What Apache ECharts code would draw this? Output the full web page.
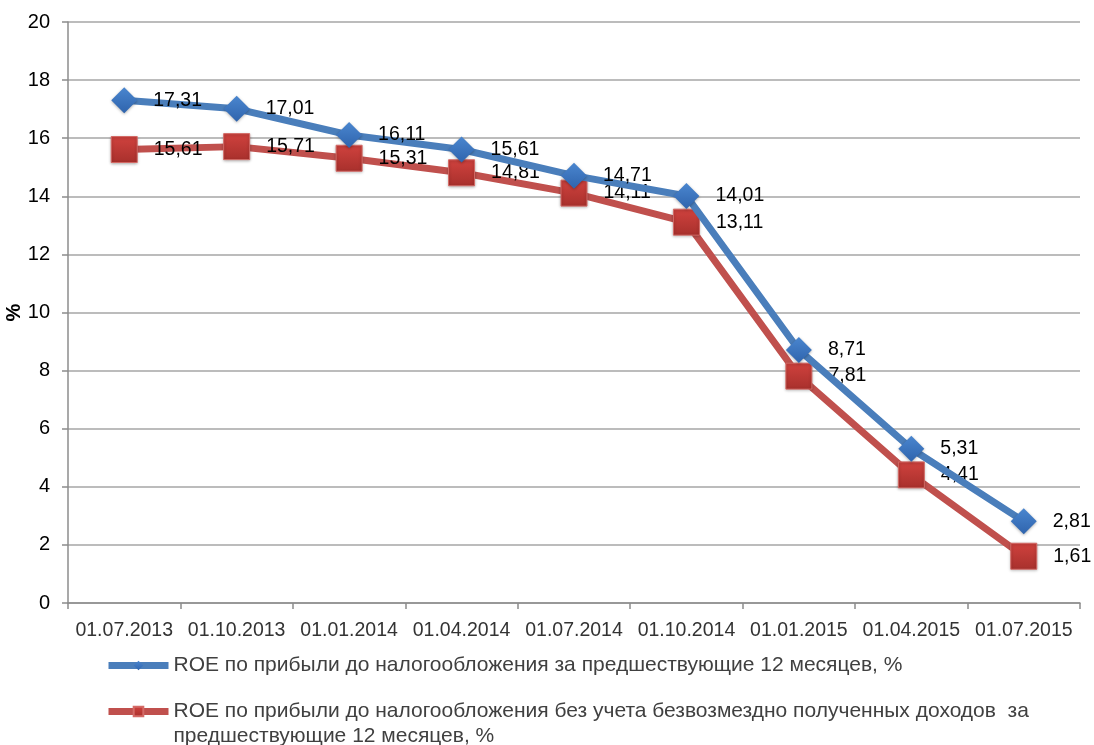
<!DOCTYPE html>
<html>
<head>
<meta charset="utf-8">
<script src="https://cdn.jsdelivr.net/npm/echarts@6/dist/echarts.min.js"></script>
<style>
  html, body { margin: 0; padding: 0; background: #fff; }
  #chart { width: 1094px; height: 745px; }
</style>
</head>
<body>
<div id="chart"></div>
<script>
var dates = ['01.07.2013', '01.10.2013', '01.01.2014', '01.04.2014', '01.07.2014',
  '01.10.2014', '01.01.2015', '01.04.2015', '01.07.2015']
var roeName = 'ROE по прибыли до налогообложения за предшествующие 12 месяцев, %'
var roeNetName = 'ROE по прибыли до налогообложения без учета безвозмездно полученных доходов  за предшествующие 12 месяцев, %'
var roeValues = [17.31, 17.01, 16.11, 15.61, 14.71, 14.01, 8.71, 5.31, 2.81]
var roeNetValues = [15.61, 15.71, 15.31, 14.81, 14.11, 13.11, 7.81, 4.41, 1.61]

var font = 'Liberation Sans, Arial, sans-serif'
var fmt = function (p) {
  return p.value.toFixed(2).replace('.', ',')
}
var legendBase = {
  orient: 'vertical',
  left: 105,
  padding: 0,
  itemWidth: 60,
  itemHeight: 12,
  align: 'left',
  lineStyle: { width: 7 },
  textStyle: { fontSize: 21, color: '#404040', fontFamily: font, lineHeight: 25 }
}

var chart = echarts.init(document.getElementById('chart'))
var option = {
  animation: false,
  grid: { left: 68, right: 14, top: 22, bottom: 142, outerBoundsMode: 'none' },
  legend: [
    Object.assign({}, legendBase, { top: 653, data: [roeName] }),
    Object.assign({}, legendBase, {
      top: 674,
      data: [roeNetName],
      // blank first line keeps the icon level with the first text line
      formatter: function (name) {
        return ' \n' + name.replace('доходов  за ', 'доходов  за\n')
      }
    })
  ],
  xAxis: {
    type: 'category',
    data: dates,
    boundaryGap: true,
    axisLine: { lineStyle: { color: '#8c8c8c', width: 1.5 } },
    axisTick: { show: true, length: 6, lineStyle: { color: '#8c8c8c', width: 1.5 } },
    axisLabel: { interval: 0, color: '#333', fontSize: 19.5, fontFamily: font, margin: 18 }
  },
  yAxis: {
    type: 'value',
    min: 0,
    max: 20,
    interval: 2,
    name: '%',
    nameLocation: 'middle',
    nameGap: 44,
    nameMoveOverlap: false,
    nameTextStyle: { fontSize: 20, fontWeight: 'bold', color: '#000', fontFamily: font },
    axisLine: { show: true, lineStyle: { color: '#8c8c8c', width: 1.5 } },
    axisTick: { show: true, length: 6, lineStyle: { color: '#8c8c8c', width: 1.5 } },
    axisLabel: { color: '#000', fontSize: 20, fontFamily: font, margin: 18 },
    splitLine: { lineStyle: { color: '#a6a6a6', width: 1.5 } }
  },
  series: [
    {
      name: roeName,
      type: 'line',
      data: roeValues,
      symbol: 'diamond',
      symbolSize: 26,
      lineStyle: { color: '#4a7ebb', width: 7 },
      itemStyle: {
        color: new echarts.graphic.LinearGradient(0, 0, 0, 1, [
          { offset: 0, color: '#4a86cf' },
          { offset: 1, color: '#2f64ad' }
        ]),
        shadowColor: 'rgba(0,0,0,0.3)',
        shadowBlur: 3,
        shadowOffsetY: 1
      },
      label: {
        show: true,
        position: 'right',
        distance: 16,
        formatter: fmt,
        color: '#000',
        fontSize: 19.5,
        fontFamily: font
      },
      z: 3
    },
    {
      name: roeNetName,
      type: 'line',
      data: roeNetValues,
      symbol: 'rect',
      symbolSize: 26,
      lineStyle: { color: '#c0504d', width: 7 },
      itemStyle: {
        color: new echarts.graphic.LinearGradient(0, 0, 0, 1, [
          { offset: 0, color: '#d0423e' },
          { offset: 1, color: '#a8302c' }
        ]),
        borderColor: '#d46a66',
        borderWidth: 1,
        shadowColor: 'rgba(0,0,0,0.3)',
        shadowBlur: 3,
        shadowOffsetY: 1
      },
      label: {
        show: true,
        position: 'right',
        distance: 16,
        formatter: fmt,
        color: '#000',
        fontSize: 19.5,
        fontFamily: font
      },
      z: 2
    }
  ]
}
chart.setOption(option)
</script>
</body>
</html>
